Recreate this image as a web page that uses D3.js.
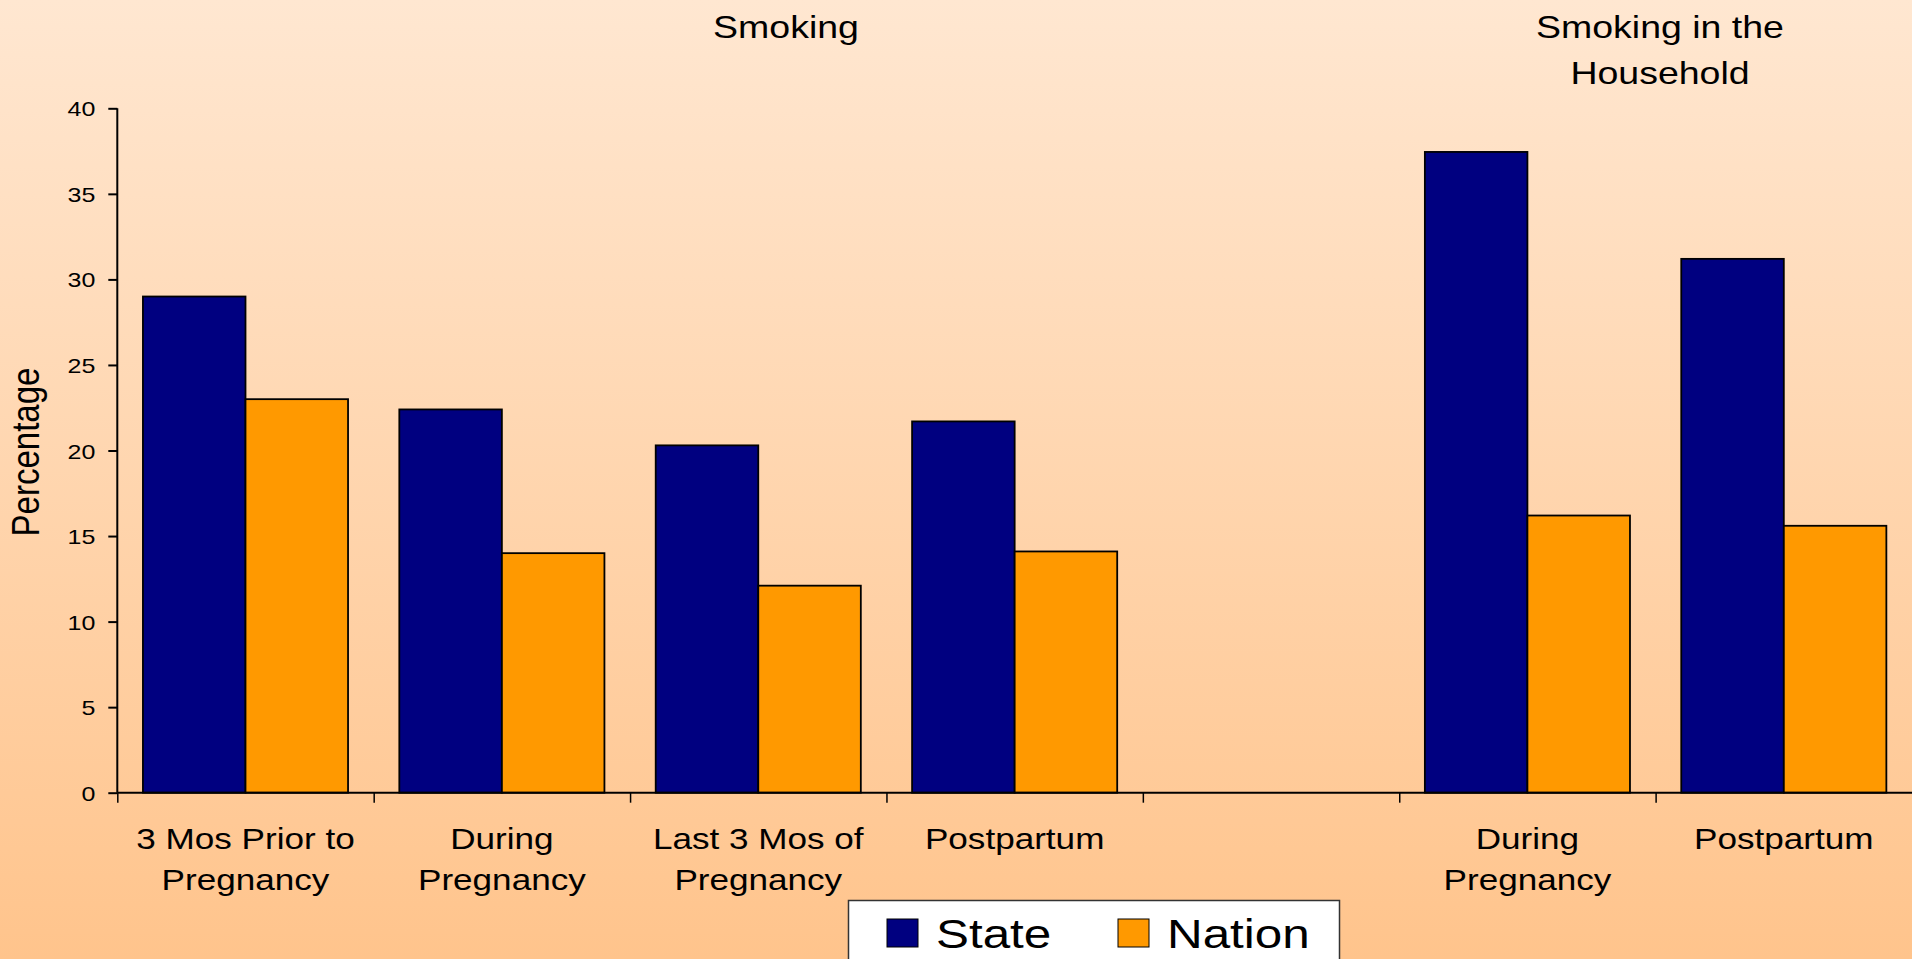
<!DOCTYPE html>
<html>
<head>
<meta charset="utf-8">
<script src="https://cdn.jsdelivr.net/npm/d3@7"></script>
<style>
  html, body { margin: 0; padding: 0; overflow: hidden; }
  svg { display: block; font-family: "Liberation Sans", Arial, sans-serif; }
</style>
</head>
<body>
<svg id="chart" width="1912" height="959"></svg>
<script>
// Category labels (each entry is a list of lines); the fifth slot is an intentional gap
const categories = [
  ["3 Mos Prior to", "Pregnancy"],
  ["During", "Pregnancy"],
  ["Last 3 Mos of", "Pregnancy"],
  ["Postpartum"],
  [],
  ["During", "Pregnancy"],
  ["Postpartum"]
];
const stateValues  = [29.0, 22.4, 20.3, 21.7, null, 37.45, 31.2];
const nationValues = [23.0, 14.0, 12.1, 14.1, null, 16.2, 15.6];
const seriesNames  = ["State", "Nation"];
const seriesColors = ["#000080", "#FF9900"];
const yTicks = [0, 5, 10, 15, 20, 25, 30, 35, 40];
const groupTitles = [
  { lines: ["Smoking"], center: 786 },
  { lines: ["Smoking in the", "Household"], center: 1660 }
];

const W = 1912, H = 959;
const plot = { left: 117.3, right: 1912, top: 108.3, bottom: 792.7 };
const SX = 1.19; // horizontal text stretch

const svg = d3.select("#chart");

// background gradient
const defs = svg.append("defs");
const grad = defs.append("linearGradient").attr("id", "bg")
  .attr("x1", 0).attr("y1", 0).attr("x2", 0).attr("y2", 1);
grad.append("stop").attr("offset", "0%").attr("stop-color", "#FFE7D1");
grad.append("stop").attr("offset", "100%").attr("stop-color", "#FFC48C");
svg.append("rect").attr("width", W).attr("height", H).attr("fill", "url(#bg)");

const idx = d3.range(categories.length);
const x = d3.scaleBand().domain(idx).range([plot.left, plot.right]).paddingInner(0).paddingOuter(0);
const xs = d3.scaleBand().domain(seriesNames).range([0, x.bandwidth()]).paddingInner(0).paddingOuter(0.25);
const xEdge = d3.scaleLinear().domain([0, categories.length]).range([plot.left, plot.right]);
const y = d3.scaleLinear().domain([0, 40]).range([plot.bottom, plot.top]);

// bars
const rows = idx.map(i => ({ i, vals: [stateValues[i], nationValues[i]] }));
const g = svg.append("g");
rows.forEach(r => {
  r.vals.forEach((v, k) => {
    if (v == null) return;
    g.append("rect")
      .attr("x", x(r.i) + xs(seriesNames[k]))
      .attr("y", y(v))
      .attr("width", xs.bandwidth())
      .attr("height", y(0) - y(v))
      .attr("fill", seriesColors[k])
      .attr("stroke", "#000")
      .attr("stroke-width", 1.8);
  });
});

// y axis
const yAxis = svg.append("g").attr("transform", `translate(${plot.left},0)`)
  .call(d3.axisLeft(y).tickValues(yTicks).tickSize(9).tickPadding(0));
yAxis.select(".domain").attr("stroke", "#000").attr("stroke-width", 2).attr("d", `M0,${plot.top}H0V${plot.bottom}`);
yAxis.selectAll(".tick line").attr("stroke", "#000").attr("stroke-width", 2);
yAxis.selectAll(".tick text")
  .attr("x", 0).attr("dy", "0.36em")
  .attr("transform", `translate(-22,0) scale(${SX},1)`)
  .attr("fill", "#000").style("font-size", "21px")
  .style("font-family", "'Liberation Sans', Arial, sans-serif");

// x axis (ticks at category boundaries)
const xAxis = svg.append("g").attr("transform", `translate(0,${plot.bottom})`)
  .call(d3.axisBottom(xEdge).tickValues(d3.range(categories.length)).tickSize(10).tickFormat(""));
xAxis.select(".domain").attr("stroke", "#000").attr("stroke-width", 2).attr("d", `M${plot.left},0H${plot.right}`);
xAxis.selectAll(".tick line").attr("stroke", "#000").attr("stroke-width", 1.5);

// stretched text helper
function stretchedText(parent, tx, ty, str, size, anchor) {
  return parent.append("text")
    .attr("transform", `translate(${tx},${ty}) scale(${SX},1)`)
    .attr("text-anchor", anchor || "middle")
    .style("font-size", size + "px")
    .attr("fill", "#000")
    .text(str);
}

// category labels
const labels = svg.append("g");
categories.forEach((lines, i) => {
  lines.forEach((ln, j) => {
    stretchedText(labels, x(i) + x.bandwidth() / 2, 849 + j * 41, ln, 29.5);
  });
});

// group titles
groupTitles.forEach(t => {
  t.lines.forEach((ln, j) => stretchedText(svg, t.center, 38 + j * 46, ln, 31.5));
});

// y axis title
svg.append("text")
  .attr("transform", `translate(39,452) scale(${SX},1) rotate(-90)`)
  .attr("text-anchor", "middle")
  .style("font-size", "33px")
  .attr("fill", "#000")
  .text("Percentage");

// legend
const leg = svg.append("g");
leg.append("rect").attr("x", 848.5).attr("y", 900.5).attr("width", 491).attr("height", 80)
  .attr("fill", "#fff").attr("stroke", "#333").attr("stroke-width", 1.5);
const legX = [887, 1118];
seriesNames.forEach((s, k) => {
  leg.append("rect").attr("x", legX[k]).attr("y", 919).attr("width", 31).attr("height", 28)
    .attr("fill", seriesColors[k]).attr("stroke", "#000").attr("stroke-width", 1);
  stretchedText(leg, legX[k] + 49, 948, s, 41.5, "start");
});
</script>
</body>
</html>
